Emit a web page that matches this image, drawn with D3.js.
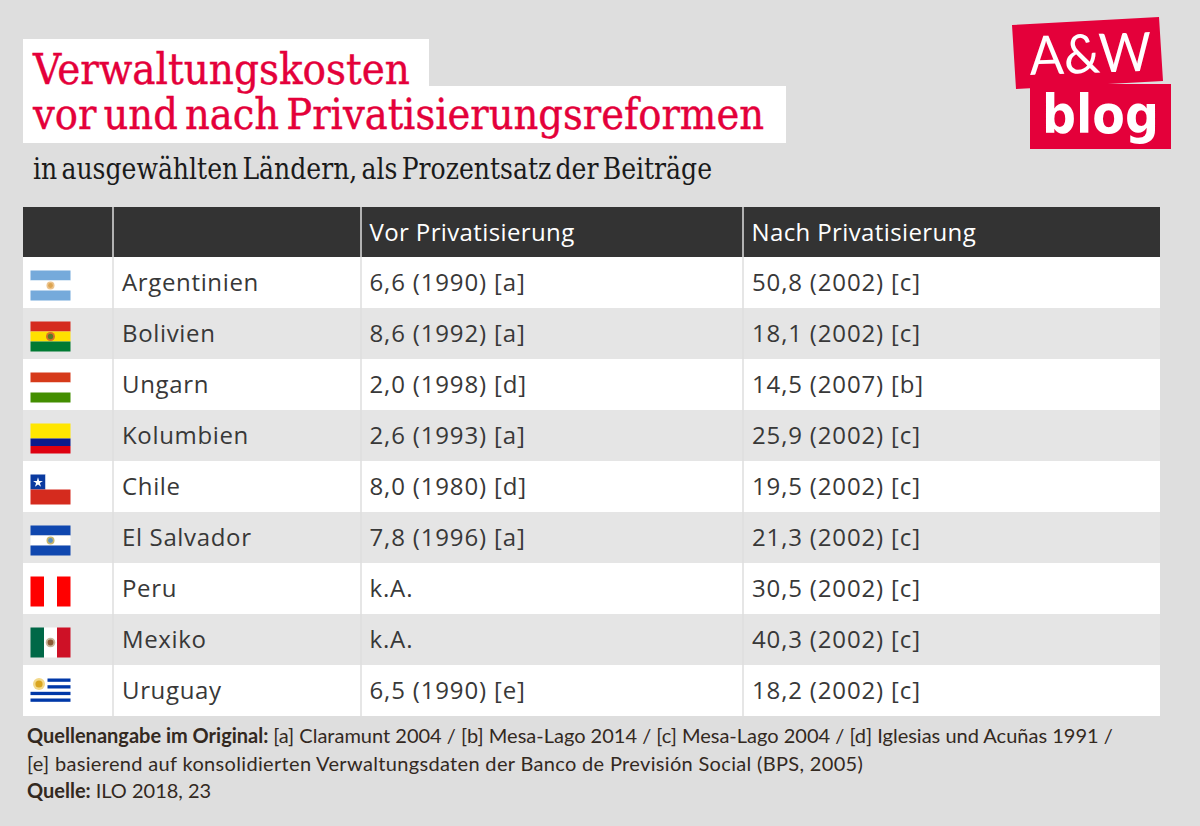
<!DOCTYPE html>
<html>
<head>
<meta charset="utf-8">
<script src="https://cdn.jsdelivr.net/npm/d3@7"></script>
<style>
html,body{margin:0;padding:0;background:#dedede;}
svg{display:block;}
.slab{font-family:"DejaVu Serif Condensed","DejaVu Serif",serif;}
.cell{font-family:"Open Sans",sans-serif;font-size:24px;fill:#383838;}
.note{font-family:Lato,sans-serif;font-size:20px;fill:#33291f;}
</style>
</head>
<body>
<svg id="chart" width="1200" height="826"></svg>
<script>
const titleLines = ["Verwaltungskosten", "vor und nach Privatisierungsreformen"];
const subtitle = "in ausgewählten Ländern, als Prozentsatz der Beiträge";
const headers = ["", "", "Vor Privatisierung", "Nach Privatisierung"];
const countries = ["Argentinien","Bolivien","Ungarn","Kolumbien","Chile","El Salvador","Peru","Mexiko","Uruguay"];
const before = ["6,6 (1990) [a]","8,6 (1992) [a]","2,0 (1998) [d]","2,6 (1993) [a]","8,0 (1980) [d]","7,8 (1996) [a]","k.A.","k.A.","6,5 (1990) [e]"];
const after = ["50,8 (2002) [c]","18,1 (2002) [c]","14,5 (2007) [b]","25,9 (2002) [c]","19,5 (2002) [c]","21,3 (2002) [c]","30,5 (2002) [c]","40,3 (2002) [c]","18,2 (2002) [c]"];
const notes = [
  [["Quellenangabe im Original: ",true],["[a] Claramunt 2004 / [b] Mesa-Lago 2014 / [c] Mesa-Lago 2004 / [d] Iglesias und Acuñas 1991 /",false]],
  [["[e] basierend auf konsolidierten Verwaltungsdaten der Banco de Previsión Social (BPS, 2005)",false]],
  [["Quelle: ",true],["ILO 2018, 23",false]]
];

const red = "#e4003a";
const svg = d3.select("#chart");

// title blocks
svg.append("rect").attr("x",23).attr("y",39).attr("width",406).attr("height",50).attr("fill","#fff");
svg.append("rect").attr("x",23).attr("y",86).attr("width",763).attr("height",57).attr("fill","#fff");
svg.selectAll("text.title").data(titleLines).enter().append("text")
  .attr("class","title slab")
  .attr("x",33).attr("y",(d,i)=>84+i*45)
  .attr("font-size",42).attr("fill",red)
  .attr("stroke",red).attr("stroke-width",0.4)
  .attr("word-spacing",-5)
  .attr("textLength",(d,i)=>i?731:377)
  .attr("lengthAdjust","spacingAndGlyphs")
  .text(d=>d);
svg.append("text").attr("class","slab").attr("x",33).attr("y",179)
  .attr("font-size",30).attr("fill","#1a1a1a")
  .attr("word-spacing",-4)
  .attr("textLength",679).attr("lengthAdjust","spacingAndGlyphs").text(subtitle);

// logo
const logo = svg.append("g");
logo.append("polygon").attr("points","1012,25 1159,17 1163,81 1016,89").attr("fill",red);
logo.append("rect").attr("x",1030).attr("y",84).attr("width",141).attr("height",65).attr("fill",red);
logo.append("text").attr("x",1030).attr("y",75).attr("font-family","Lato,sans-serif").attr("font-weight",400).attr("font-size",54)
  .attr("fill","#fff").attr("textLength",122).attr("lengthAdjust","spacingAndGlyphs").attr("transform","rotate(-2 1030 75)").text("A&W");
logo.append("text").attr("x",1042).attr("y",133).attr("font-family","DejaVu Sans,sans-serif").attr("font-weight",700).attr("font-size",54)
  .attr("fill","#fff").attr("textLength",117).attr("lengthAdjust","spacingAndGlyphs").text("blog");

// table scales
const y = d3.scaleBand().domain(d3.range(countries.length)).range([257,716]);
const colEdges = [23,113,361,743,1160];
const left = 23, right = 1160;

// header
svg.append("rect").attr("x",left).attr("y",207).attr("width",right-left).attr("height",50).attr("fill","#333");
svg.selectAll("text.head").data(headers).enter().append("text")
  .attr("class","cell head").attr("x",(d,i)=>colEdges[i]+8.5).attr("y",241).attr("letter-spacing",0.38).style("fill","#fff").text(d=>d);

// rows
const rows = svg.selectAll("g.row").data(countries).enter().append("g")
  .attr("class","row").attr("transform",(d,i)=>`translate(0,${y(i)})`);
rows.append("rect").attr("x",left).attr("width",right-left).attr("height",y.bandwidth())
  .attr("fill",(d,i)=>i%2?"#e5e5e5":"#fff");
const baseline = y.bandwidth()/2+8.5;
rows.append("text").attr("class","cell").attr("x",colEdges[1]+9).attr("y",baseline).attr("letter-spacing",0.65).text(d=>d);
rows.append("text").attr("class","cell").attr("x",colEdges[2]+8.5).attr("y",baseline).attr("letter-spacing",0.85).text((d,i)=>before[i]);
rows.append("text").attr("class","cell").attr("x",colEdges[3]+9).attr("y",baseline).attr("letter-spacing",0.85).text((d,i)=>after[i]);

// column rules
svg.selectAll("line.rule").data(colEdges.slice(1,4)).enter().append("line")
  .attr("x1",d=>d).attr("x2",d=>d).attr("y1",207).attr("y2",716)
  .attr("stroke","#dedede").attr("stroke-width",1.5);

// flags, 40x30
const flag = rows.append("g").attr("transform",`translate(30.5,${y.bandwidth()/2-12})`);
function bars(g, list){
  list.forEach(b=>g.append("rect").attr("x",b[0]).attr("y",b[1]).attr("width",b[2]).attr("height",b[3]).attr("fill",b[4]));
}
function emblem(g, cx, cy, r, c1, c2){
  g.append("circle").attr("cx",cx).attr("cy",cy).attr("r",r).attr("fill",c1);
  g.append("circle").attr("cx",cx).attr("cy",cy).attr("r",r*0.6).attr("fill",c2);
}
const painters = {
  Argentinien(g){ bars(g,[[0,0,40,10,"#75aadb"],[0,10,40,10,"#fff"],[0,20,40,10,"#75aadb"]]); emblem(g,20,15,4,"#ecc48e","#dca451"); },
  Bolivien(g){ bars(g,[[0,0,40,10,"#d52b1e"],[0,10,40,10,"#ffe000"],[0,20,40,10,"#007a33"]]); emblem(g,20,15,4.5,"#d8702a","#5a7a2a"); },
  Ungarn(g){ bars(g,[[0,0,40,10,"#d63a1a"],[0,10,40,10,"#fff"],[0,20,40,10,"#438e00"]]); },
  Kolumbien(g){ bars(g,[[0,0,40,15,"#ffe600"],[0,15,40,7.5,"#0a1a8c"],[0,22.5,40,7.5,"#de0010"]]); },
  Chile(g){ bars(g,[[0,0,15,15,"#0a3aa0"],[15,0,25,15,"#fff"],[0,15,40,15,"#d52b1e"]]);
    g.append("path").attr("d",d3.symbol(d3.symbolStar,30)()).attr("transform","translate(7.5,8)").attr("fill","#fff"); },
  "El Salvador"(g){ bars(g,[[0,0,40,10,"#0f47af"],[0,10,40,10,"#fff"],[0,20,40,10,"#0f47af"]]); emblem(g,20,15,4,"#c9b76a","#5b8fc0"); },
  Peru(g){ bars(g,[[0,0,13.5,30,"#f00"],[13.5,0,13,30,"#fff"],[26.5,0,13.5,30,"#f00"]]); },
  Mexiko(g){ bars(g,[[0,0,13.5,30,"#006847"],[13.5,0,13,30,"#fff"],[26.5,0,13.5,30,"#ce1126"]]); emblem(g,20,15,4.8,"#c8b69c","#8a5a34"); },
  Uruguay(g){ bars(g,[[17,0,23,3.3,"#0038a8"],[17,6.7,23,3.3,"#0038a8"],[0,13.3,40,3.3,"#0038a8"],[0,20,40,3.3,"#0038a8"]]);
    emblem(g,8.5,5.5,6,"#f3d98a","#d9a520"); }
};
flag.each(function(d){ painters[d](d3.select(this)); });

// notes, second line runs wider in the original
const noteText = svg.selectAll("text.note").data(notes).enter().append("text")
  .attr("class","note").attr("x",27).attr("y",(d,i)=>743+i*27.5)
  .attr("letter-spacing",(d,i)=>i==1?0.33:0);
noteText.selectAll("tspan").data(d=>d).enter().append("tspan")
  .attr("font-weight",d=>d[1]?700:400).text(d=>d[0]);
</script>
</body>
</html>
